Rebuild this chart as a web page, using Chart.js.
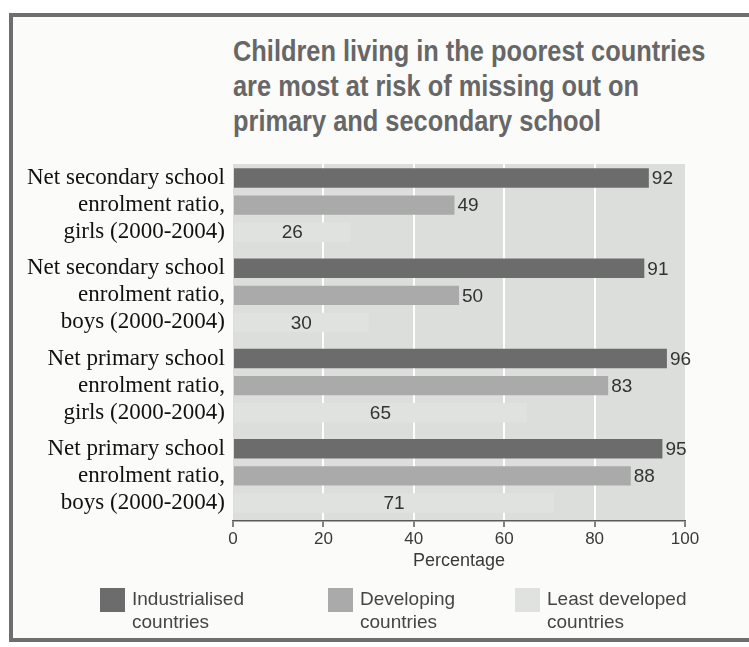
<!DOCTYPE html>
<html>
<head>
  <meta charset="UTF-8">
  <title>Children living in the poorest countries</title>
  <style>
    body {
      margin: 0;
      background: #ffffff;
      font-family: "Liberation Sans", Arial, sans-serif;
    }
    #page {
      position: relative;
      width: 749px;
      height: 647px;
      overflow: hidden;
    }
    #frame {
      position: absolute;
      left: 9px;
      top: 13px;
      width: 760px;
      height: 621px;
      border: 4px solid #6e6e6e;
      border-right: none;
      background: #fbfbfa;
    }
    #title {
      position: absolute;
      left: 233px;
      top: 34px;
      font-weight: bold;
      font-size: 29px;
      line-height: 35px;
      color: #676767;
      white-space: nowrap;
      transform: scaleX(0.875);
      transform-origin: left top;
    }
    #chart {
      position: absolute;
      left: 0;
      top: 0;
    }
    .legend-item {
      position: absolute;
      top: 588px;
      font-size: 19px;
      line-height: 23px;
      color: #454545;
    }
    .swatch {
      position: absolute;
      left: 0;
      top: 0;
      width: 25px;
      height: 24px;
    }
    .legend-item span {
      display: block;
      margin-left: 32px;
      margin-top: -1px;
      white-space: nowrap;
    }
  </style>
</head>
<body>
  <div id="page">
    <div id="frame"></div>
    <div id="title">Children living in the poorest countries<br>are most at risk of missing out on<br>primary and secondary school</div>
    <canvas id="chart" width="749" height="647"></canvas>
    <div id="legend"></div>
  </div>

  <script src="https://cdn.jsdelivr.net/npm/chart.js"></script>
  <script>
    const categories = [
      ["Net secondary school", "enrolment ratio,", "girls (2000-2004)"],
      ["Net secondary school", "enrolment ratio,", "boys (2000-2004)"],
      ["Net primary school", "enrolment ratio,", "girls (2000-2004)"],
      ["Net primary school", "enrolment ratio,", "boys (2000-2004)"],
    ];
    const seriesNames = [["Industrialised", "countries"], ["Developing", "countries"], ["Least developed", "countries"]];
    const industrialised = [92, 91, 96, 95];
    const developing = [49, 50, 83, 88];
    const leastDeveloped = [26, 30, 65, 71];
    const xTicks = [0, 20, 40, 60, 80, 100];

    const colors = ["#6c6c6c", "#a9aaa9", "#e0e2e0"];
    const plotBg = "#dcdedc";

    // legend in html, two-line labels
    const legendX = [100, 328, 515];
    const legend = document.getElementById("legend");
    seriesNames.forEach((name, i) => {
      const item = document.createElement("div");
      item.className = "legend-item";
      item.style.left = legendX[i] + "px";
      item.innerHTML = '<div class="swatch" style="background:' + colors[i] + '"></div><span>' + name.join("<br>") + "</span>";
      legend.appendChild(item);
    });

    const plotBackground = {
      id: "plotBackground",
      beforeDraw(chart) {
        const a = chart.chartArea;
        const ctx = chart.ctx;
        ctx.save();
        ctx.fillStyle = plotBg;
        ctx.fillRect(a.left, a.top + 4, a.right - a.left, a.bottom - a.top - 4);
        ctx.restore();
      },
    };

    const valueLabels = {
      id: "valueLabels",
      afterDatasetsDraw(chart) {
        const ctx = chart.ctx;
        ctx.save();
        ctx.font = "19px 'Liberation Sans', Arial, sans-serif";
        ctx.fillStyle = "#333333";
        ctx.textBaseline = "middle";
        chart.data.datasets.forEach((ds, di) => {
          chart.getDatasetMeta(di).data.forEach((bar, i) => {
            if (di === 2) {
              ctx.textAlign = "center";
              ctx.fillText(ds.data[i], (bar.base + bar.x) / 2, bar.y + 1);
            } else {
              ctx.textAlign = "left";
              ctx.fillText(ds.data[i], bar.x + 3, bar.y + 1);
            }
          });
        });
        ctx.restore();
      },
    };

    new Chart(document.getElementById("chart"), {
      type: "bar",
      data: {
        labels: categories,
        datasets: [
          { label: seriesNames[0].join(" "), data: industrialised, backgroundColor: colors[0] },
          { label: seriesNames[1].join(" "), data: developing, backgroundColor: colors[1] },
          { label: seriesNames[2].join(" "), data: leastDeveloped, backgroundColor: colors[2] },
        ],
      },
      options: {
        indexAxis: "y",
        responsive: false,
        animation: false,
        layout: {
          padding: { left: 10, top: 160, right: 64, bottom: 72 },
        },
        datasets: {
          bar: { categoryPercentage: 0.9, barPercentage: 0.72 },
        },
        plugins: {
          legend: { display: false },
          tooltip: { enabled: false },
        },
        scales: {
          x: {
            min: 0,
            max: 100,
            afterBuildTicks(scale) {
              scale.ticks = xTicks.map((v) => ({ value: v }));
            },
            afterFit(scale) {
              scale.height = 54;
            },
            grid: {
              color: (c) => (c.tick && (c.tick.value === 0 || c.tick.value === 100) ? "rgba(0,0,0,0)" : "#ffffff"),
              lineWidth: 2,
              tickColor: "#5a5a5a",
              tickLength: 6,
              tickWidth: 1.5,
            },
            border: { display: true, color: "#5a5a5a", width: 1.5 },
            ticks: {
              color: "#3a3a3a",
              font: { size: 17, family: "'Liberation Sans', Arial, sans-serif" },
              padding: 2,
            },
            title: {
              display: true,
              text: "Percentage",
              color: "#3a3a3a",
              font: { size: 18, family: "'Liberation Sans', Arial, sans-serif" },
              padding: { top: 2, bottom: 3 },
            },
          },
          y: {
            afterFit(scale) {
              scale.width = 223;
            },
            grid: { display: false },
            border: { display: false },
            ticks: {
              color: "#111111",
              font: { size: 23, family: "'Liberation Serif', 'Times New Roman', serif", lineHeight: "27px" },
              padding: 0,
            },
          },
        },
      },
      plugins: [plotBackground, valueLabels],
    });
  </script>
</body>
</html>
